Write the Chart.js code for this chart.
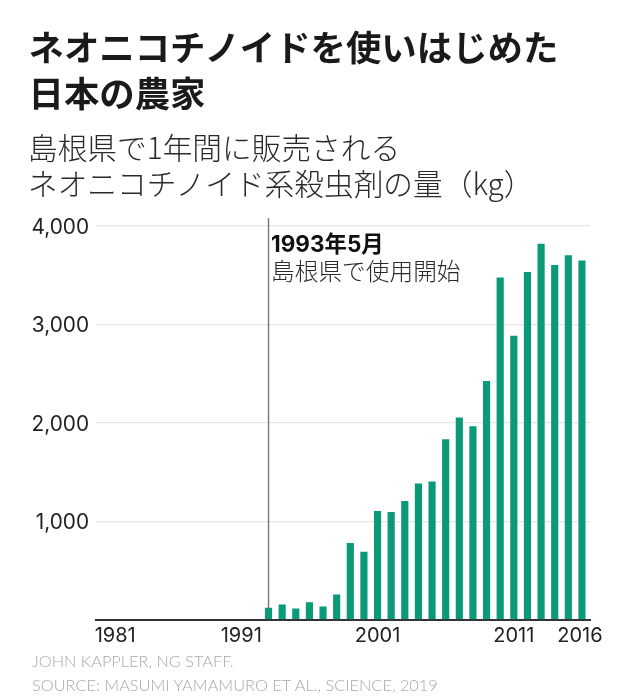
<!DOCTYPE html>
<html lang="ja">
<head>
<meta charset="utf-8">
<title>ネオニコチノイドを使いはじめた日本の農家</title>
<script src="https://cdn.jsdelivr.net/npm/chart.js@4"></script>
<style>
  html, body { margin: 0; padding: 0; background: #fff; }
  #wrap { position: relative; width: 630px; height: 698px; overflow: hidden; font-family: Lato, "Noto Sans CJK JP", sans-serif; }
  canvas { position: absolute; left: 0; top: 0; }
  .txt { position: absolute; white-space: nowrap; }
  .title { left: 28.5px; font-family: "Noto Sans CJK JP"; font-weight: 700; font-size: 35.4px; line-height: 46px; color: #1a1a1a; }
  .sub { left: 28px; font-family: "Noto Sans CJK JP"; font-weight: 300; font-size: 29.7px; line-height: 36px; color: #2a2a2a; }
  .foot { left: 32px; font-family: Lato; font-weight: 300; font-size: 16.35px; line-height: 24px; color: #a8a8a8; }
</style>
</head>
<body>
<div id="wrap">
  <canvas id="chart" width="630" height="698"></canvas>
  <div class="txt title" style="top:22.5px">ネオニコチノイドを使いはじめた</div>
  <div class="txt title" style="top:68.5px">日本の農家</div>
  <div class="txt sub" style="top:128.5px">島根県で1年間に販売される</div>
  <div class="txt sub" style="top:164.5px">ネオニコチノイド系殺虫剤の量（kg）</div>
  <div class="txt foot" style="top:649px">JOHN KAPPLER, NG STAFF.</div>
  <div class="txt foot" style="top:673px">SOURCE: MASUMI YAMAMURO ET AL., SCIENCE, 2019</div>
</div>
<script>
// Chart data
const years = [1993, 1994, 1995, 1996, 1997, 1998, 1999, 2000, 2001, 2002, 2003, 2004,
  2005, 2006, 2007, 2008, 2009, 2010, 2011, 2012, 2013, 2014, 2015, 2016];
const amounts = [115, 149, 108, 173, 129, 251, 775, 685, 1100, 1090, 1200, 1380,
  1400, 1830, 2050, 1960, 2420, 3473, 2880, 3530, 3815, 3600, 3700, 3645];
const yTicks = [0, 1000, 2000, 3000, 4000];
const xTickLabels = ['1981', '1991', '2001', '2011', '2016'];
// the first and last labels sit slightly inside the axis ends in the original
const xTickPlaces = [1981.75, 1991, 2001, 2011, 2015.85];
const startYear = 1993;
const noteHead = '1993年5月';
const noteBody = '島根県で使用開始';

// Vertical marker and its note
const startMarker = {
  id: 'startMarker',
  afterDatasetsDraw: function(chart) {
    const ctx = chart.ctx;
    const x = chart.scales.x.getPixelForValue(startYear);
    const yBottom = chart.scales.y.getPixelForValue(amounts[0]);
    ctx.save();
    ctx.beginPath();
    ctx.lineWidth = 1.4;
    ctx.strokeStyle = '#777';
    ctx.moveTo(x, 218);
    ctx.lineTo(x, yBottom);
    ctx.stroke();
    ctx.textBaseline = 'middle';
    ctx.fillStyle = '#111';
    ctx.font = '700 22.5px Inter, "Noto Sans CJK JP"';
    ctx.fillText(noteHead, x + 2.5, 245);
    ctx.fillStyle = '#2a2a2a';
    ctx.font = '300 23.7px "Noto Sans CJK JP"';
    ctx.fillText(noteBody, x + 2.5, 271);
    ctx.restore();
  }
};

new Chart(document.getElementById('chart').getContext('2d'), {
  type: 'bar',
  data: {
    datasets: [{
      data: years.map((y, i) => ({ x: y, y: amounts[i] })),
      backgroundColor: '#0a9a78',
      barThickness: 6.5
    }]
  },
  options: {
    responsive: false,
    animation: false,
    layout: { padding: { top: 226, right: 40, left: 0, bottom: 0 } },
    plugins: { legend: { display: false }, tooltip: { enabled: false } },
    scales: {
      x: {
        type: 'linear',
        offset: false,
        min: 1980.34,
        max: 2016.59,
        afterFit: function(scale) { scale.height = 78.5; },
        afterBuildTicks: function(scale) {
          scale.ticks = xTickPlaces.map(v => ({ value: v }));
        },
        grid: { display: false, drawTicks: false },
        border: { color: '#333', width: 2 },
        ticks: {
          autoSkip: false,
          maxRotation: 0,
          padding: 4,
          color: '#222',
          font: { family: 'Inter', size: 20 },
          callback: function(value) {
            return xTickLabels[xTickPlaces.indexOf(value)];
          }
        }
      },
      y: {
        min: 0,
        max: 4000,
        afterFit: function(scale) { scale.width = 96; },
        afterBuildTicks: function(scale) {
          scale.ticks = yTicks.map(v => ({ value: v }));
        },
        grid: { color: '#e6e6e6', lineWidth: 1.2, drawTicks: false },
        border: { display: false },
        ticks: {
          padding: 7,
          labelOffset: 1.5,
          color: '#222',
          font: { family: 'Inter', size: 20.8 },
          callback: function(value) {
            return value === 0 ? '' : value.toLocaleString('en-US');
          }
        }
      }
    }
  },
  plugins: [startMarker]
});
</script>
</body>
</html>
